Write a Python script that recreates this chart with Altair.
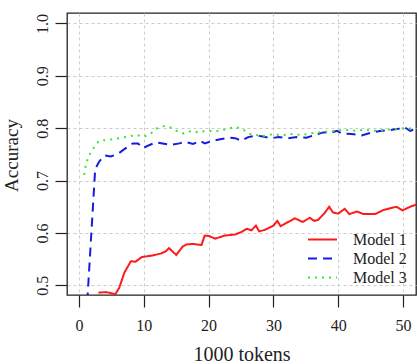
import altair as alt
import pandas as pd

# Accuracy curves for three models as training tokens grow (x in thousands)
names = ["Model 1", "Model 2", "Model 3"]
colors = ["#ff1a1a", "#1a1ae0", "#33e633"]
dashes = [[1, 0], [9, 6], [2, 5]]

m1_x = [3.0, 4.2, 5.6, 6.2, 7.0, 8.0, 8.7, 9.7, 11.4, 12.7, 13.4, 13.9, 15.0, 16.0,
        16.6, 17.6, 18.9, 19.4, 20.1, 21.0, 22.5, 24.1, 25.1, 25.9, 26.6, 27.3, 27.8,
        28.7, 30.0, 30.6, 31.1, 32.3, 33.3, 34.5, 35.6, 36.3, 36.9, 37.9, 38.6, 39.2,
        40.0, 41.0, 41.7, 42.9, 43.9, 45.7, 47.0, 49.0, 49.9, 51.1, 52.0]
m1_y = [0.486, 0.487, 0.483, 0.495, 0.524, 0.546, 0.545, 0.554, 0.557, 0.561, 0.565,
        0.571, 0.558, 0.574, 0.578, 0.579, 0.577, 0.595, 0.594, 0.589, 0.595, 0.597,
        0.602, 0.608, 0.605, 0.614, 0.603, 0.606, 0.614, 0.623, 0.613, 0.621, 0.628,
        0.621, 0.629, 0.623, 0.625, 0.638, 0.650, 0.639, 0.637, 0.646, 0.636, 0.641,
        0.636, 0.636, 0.644, 0.650, 0.643, 0.650, 0.654]

m2_x = [1.0, 2.5, 3.1, 3.9, 4.9, 6.0, 7.0, 8.3, 9.1, 9.9, 10.9, 11.9, 12.9, 14.2, 15.5,
        16.4, 17.6, 18.7, 19.4, 20.7, 21.8, 23.3, 24.1, 25.1, 26.1, 27.4, 28.4, 29.7,
        30.8, 32.3, 33.6, 35.1, 36.4, 37.7, 39.0, 39.8, 40.5, 42.1, 43.6, 45.2, 46.7,
        48.3, 49.3, 50.2, 51.1, 52.0]
m2_y = [0.412, 0.722, 0.736, 0.748, 0.746, 0.751, 0.760, 0.771, 0.771, 0.762, 0.768,
        0.773, 0.771, 0.768, 0.771, 0.774, 0.770, 0.776, 0.771, 0.776, 0.779, 0.782,
        0.781, 0.776, 0.783, 0.786, 0.784, 0.781, 0.783, 0.781, 0.783, 0.782, 0.787,
        0.792, 0.792, 0.795, 0.790, 0.789, 0.786, 0.792, 0.795, 0.797, 0.799, 0.802,
        0.795, 0.799]

m3_x = [0.8, 1.1, 1.6, 2.4, 3.1, 4.7, 6.2, 7.5, 8.8, 10.1, 11.1, 11.9, 13.2, 14.2, 15.2,
        16.1, 17.4, 18.4, 19.7, 21.2, 22.3, 23.3, 24.2, 25.1, 26.4, 27.4, 28.7, 30.0,
        31.3, 32.6, 34.4, 35.6, 36.9, 38.5, 39.5, 41.0, 42.6, 44.1, 45.7, 47.2, 48.8,
        50.3, 52.0]
m3_y = [0.711, 0.733, 0.749, 0.765, 0.776, 0.778, 0.781, 0.784, 0.787, 0.784, 0.790,
        0.799, 0.804, 0.801, 0.794, 0.790, 0.795, 0.792, 0.795, 0.794, 0.797, 0.800,
        0.802, 0.799, 0.789, 0.787, 0.785, 0.789, 0.786, 0.789, 0.787, 0.790, 0.792,
        0.794, 0.795, 0.797, 0.795, 0.797, 0.795, 0.797, 0.798, 0.800, 0.799]

x_ticks = [0, 10, 20, 30, 40, 50]
y_ticks = [0.5, 0.6, 0.7, 0.8, 0.9, 1.0]

rows = []
for name, xs, ys in zip(names, [m1_x, m2_x, m3_x], [m1_y, m2_y, m3_y]):
    for i, (xv, yv) in enumerate(zip(xs, ys)):
        rows.append({"model": name, "tokens": xv, "acc": yv, "i": i})
df = pd.DataFrame(rows)

FONT = "Liberation Serif"
TXT = "#222222"

legend = alt.Legend(
    title=None, orient="none", legendX=240, legendY=217,
    symbolType="stroke", symbolSize=841, symbolStrokeWidth=2,
    labelFont=FONT, labelFontSize=16, labelColor=TXT, labelOffset=15,
    clipHeight=19, rowPadding=0, padding=0,
)

chart = alt.Chart(df).mark_line(strokeWidth=2, clip=True).encode(
    x=alt.X("tokens:Q", scale=alt.Scale(domain=[-1.85, 52.0], nice=False, zero=False),
            axis=alt.Axis(values=x_ticks, title="1000 tokens", format="d",
                          tickSize=12, tickColor=TXT, tickWidth=1.2, domain=False,
                          labelFont=FONT, labelFontSize=16, labelColor=TXT, labelPadding=10,
                          titleFont=FONT, titleFontSize=20, titleFontWeight="normal",
                          titleColor=TXT, titleY=65, titleBaseline="alphabetic",
                          grid=True, gridDash=[3, 3], gridColor="#cccccc", gridWidth=1)),
    y=alt.Y("acc:Q", scale=alt.Scale(domain=[0.4815, 1.02], nice=False, zero=False),
            axis=alt.Axis(values=y_ticks, title="Accuracy", format=".1f",
                          tickSize=12, tickColor=TXT, tickWidth=1.2, domain=False,
                          labelFont=FONT, labelFontSize=16, labelColor=TXT,
                          labelAngle=270, labelAlign="center", labelBaseline="middle",
                          labelPadding=13,
                          titleFont=FONT, titleFontSize=19, titleFontWeight="normal",
                          titleColor=TXT, titleAngle=270, titleX=-56, titleY=142,
                          titleBaseline="middle", titleAlign="center",
                          grid=True, gridDash=[3, 3], gridColor="#cccccc", gridWidth=1)),
    color=alt.Color("model:N", scale=alt.Scale(domain=names, range=colors), legend=legend),
    strokeDash=alt.StrokeDash("model:N", scale=alt.Scale(domain=names, range=dashes),
                              legend=legend),
    order="i:Q",
).properties(
    width=349, height=282,
    padding={"left": 67, "top": 13, "right": 1, "bottom": 69},
    autosize=alt.AutoSizeParams(type="none"),
    background="white",
).configure_view(stroke="#222222", strokeWidth=1.3)

chart.save("out.html", embed_options={"renderer": "svg", "actions": False})
